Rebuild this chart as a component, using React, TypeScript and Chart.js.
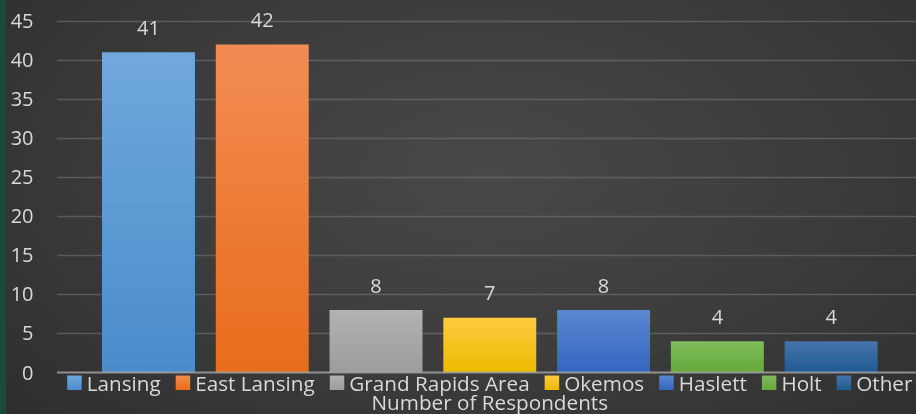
import React, { useEffect, useRef } from "react";
import { Chart, registerables } from "chart.js";

Chart.register(...registerables);

const categories: string[] = ["Lansing", "East Lansing", "Grand Rapids Area", "Okemos", "Haslett", "Holt", "Other"];
const respondents: number[] = [41, 42, 8, 7, 8, 4, 4];
const topColors: string[] = ["#70a8dd", "#f28c53", "#b2b2b2", "#ffc940", "#5b87d2", "#80bc5c", "#4673aa"];
const bottomColors: string[] = ["#4a8ccb", "#e86c1a", "#9c9c9c", "#edbb00", "#3466c0", "#65a83a", "#1e5a93"];
const axisTitle = "Number of Respondents";
const yMax = 45;
const yStep = 5;

const FONT = "'Open Sans'";
const TEXT = "#d9d9d9";

function makeGrad(c: CanvasRenderingContext2D, top: number, bottom: number, i: number) {
  const g = c.createLinearGradient(0, top, 0, bottom);
  g.addColorStop(0, topColors[i]);
  g.addColorStop(1, bottomColors[i]);
  return g;
}

const decorPlugin = {
  id: "decor",
  beforeDatasetsDraw(chart: any) {
    const { ctx, scales } = chart;
    const y = scales.y;
    ctx.save();
    ctx.strokeStyle = "rgba(120,120,120,0.55)";
    ctx.lineWidth = 1.5;
    for (let v = yStep; v <= yMax; v += yStep) {
      const py = Math.round(y.getPixelForValue(v)) + 0.5;
      ctx.beginPath();
      ctx.moveTo(57, py);
      ctx.lineTo(chart.width, py);
      ctx.stroke();
    }
    // y tick labels
    ctx.fillStyle = TEXT;
    ctx.font = `20px ${FONT}`;
    ctx.textAlign = "right";
    ctx.textBaseline = "alphabetic";
    for (let v = 0; v <= yMax; v += yStep) {
      ctx.fillText(String(v), 33.5, y.getPixelForValue(v) + 7);
    }
    ctx.restore();
  },
  afterDatasetsDraw(chart: any) {
    const { ctx, scales, chartArea } = chart;
    const y = scales.y;
    const y0 = y.getPixelForValue(0);
    ctx.save();
    // axis line
    ctx.strokeStyle = "rgba(175,175,175,0.75)";
    ctx.lineWidth = 2;
    ctx.beginPath();
    ctx.moveTo(57, y0);
    ctx.lineTo(chart.width, y0);
    ctx.stroke();

    // data labels
    const meta = chart.getDatasetMeta(0);
    ctx.fillStyle = TEXT;
    ctx.font = `20px ${FONT}`;
    ctx.textAlign = "center";
    ctx.textBaseline = "alphabetic";
    meta.data.forEach((bar: any, i: number) => {
      ctx.fillText(String(respondents[i]), bar.x, bar.y - 17.5);
    });

    // legend
    ctx.font = `20.7px ${FONT}`;
    const cx = (chartArea.left + chartArea.right) / 2;
    const box = 14.5;
    const gapBox = 5;
    const gapItem = 15;
    const widths = categories.map((c) => ctx.measureText(c).width);
    let total = 0;
    widths.forEach((w, i) => {
      total += box + gapBox + w + (i < widths.length - 1 ? gapItem : 0);
    });
    let x = cx - total / 2;
    const boxTop = 375.5;
    ctx.textAlign = "left";
    categories.forEach((c, i) => {
      ctx.fillStyle = makeGrad(ctx, boxTop, boxTop + box, i);
      ctx.fillRect(x, boxTop, box, box);
      x += box + gapBox;
      ctx.fillStyle = TEXT;
      ctx.fillText(c, x, 390.5);
      x += widths[i] + gapItem;
    });

    // axis title
    ctx.textAlign = "center";
    ctx.fillText(axisTitle, cx, 410);
    ctx.restore();
  },
};

export default function App() {
  const ref = useRef<HTMLCanvasElement | null>(null);
  useEffect(() => {
    if (!ref.current) return;
    const chart = new Chart(ref.current, {
      type: "bar",
      data: {
        labels: categories,
        datasets: [
          {
            data: respondents,
            backgroundColor: (c: any) => {
              const ch = c.chart;
              if (!ch.chartArea || c.type !== "data") return topColors[c.dataIndex ?? 0];
              const ys = ch.scales.y;
              return makeGrad(ch.ctx, ys.getPixelForValue(c.raw), ys.getPixelForValue(0), c.dataIndex);
            },
            borderWidth: 0,
            categoryPercentage: 1,
            barPercentage: 0.817,
          },
        ],
      },
      options: {
        responsive: false,
        animation: false,
        devicePixelRatio: 1,
        layout: { padding: { top: 21, bottom: 41.5, left: 91.6, right: 28 } },
        plugins: { legend: { display: false }, tooltip: { enabled: false } },
        scales: {
          x: { display: false, offset: true },
          y: { display: false, min: 0, max: yMax, ticks: { stepSize: yStep } },
        },
      },
      plugins: [decorPlugin],
    });
    return () => chart.destroy();
  }, []);

  return (
    <div
      style={{
        position: "fixed",
        left: 0,
        top: 0,
        width: 916,
        height: 414,
        background:
          "linear-gradient(to right, #1a4a3c 0px, #1a4a3c 6px, transparent 6px), radial-gradient(ellipse 75% 95% at 53% 42%, #484848 0%, #3d3d3d 45%, #2c2c2c 100%)",
      }}
    >
      <canvas ref={ref} width={916} height={414} style={{ display: "block", width: 916, height: 414 }} />
    </div>
  );
}
